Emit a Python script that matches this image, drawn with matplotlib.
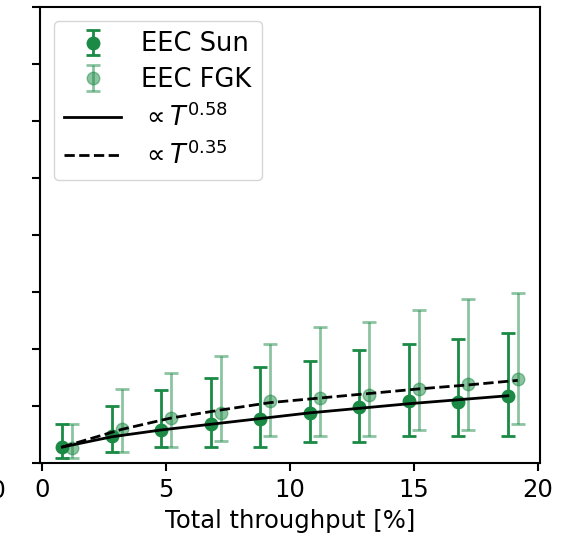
import numpy as np
import matplotlib
matplotlib.use("Agg")
import matplotlib.pyplot as plt

# EEC yield vs total throughput (y-axis units arbitrary, labels cropped off)
x_sun = [0.8, 2.8, 4.8, 6.8, 8.8, 10.8, 12.8, 14.8, 16.8, 18.8]
y_sun = [0.28, 0.47, 0.58, 0.68, 0.77, 0.88, 0.98, 1.09, 1.07, 1.18]
sun_lo = [0.09, 0.19, 0.28, 0.28, 0.28, 0.37, 0.37, 0.47, 0.47, 0.47]
sun_hi = [0.68, 1.00, 1.28, 1.49, 1.68, 1.79, 1.98, 2.09, 2.18, 2.28]

x_fgk = [1.2, 3.2, 5.2, 7.2, 9.2, 11.2, 13.2, 15.2, 17.2, 19.2]
y_fgk = [0.26, 0.60, 0.79, 0.88, 1.09, 1.14, 1.19, 1.30, 1.39, 1.47]
fgk_lo = [0.09, 0.19, 0.28, 0.39, 0.47, 0.47, 0.47, 0.58, 0.58, 0.68]
fgk_hi = [0.68, 1.30, 1.58, 1.88, 2.09, 2.39, 2.47, 2.68, 2.88, 2.98]

# fitted power laws
fit_sun = [0.28, 0.46, 0.58, 0.68, 0.78, 0.88, 0.96, 1.04, 1.11, 1.18]
x_fit_fgk = [0.8, 3.2, 5.2, 7.2, 9.2, 11.2, 13.2, 15.2, 17.2, 19.2]
fit_fgk = [0.28, 0.59, 0.79, 0.93, 1.06, 1.14, 1.22, 1.30, 1.37, 1.45]

green = "#1b8a45"
fs = 17.5

fig = plt.figure(figsize=(5.65, 5.37), dpi=100)
ax = fig.add_axes([0.0708, 0.1378, 0.885, 0.849])

err_sun = [np.array(y_sun) - np.array(sun_lo), np.array(sun_hi) - np.array(y_sun)]
err_fgk = [np.array(y_fgk) - np.array(fgk_lo), np.array(fgk_hi) - np.array(y_fgk)]

h1 = ax.errorbar(x_sun, y_sun, yerr=err_sun, fmt="o", color=green, ms=9,
                 elinewidth=2, capsize=5, capthick=2, label="EEC Sun", zorder=3)
h2 = ax.errorbar(x_fgk, y_fgk, yerr=err_fgk, fmt="o", color=green, alpha=0.5, ms=9,
                 elinewidth=2, capsize=5, capthick=2, label="EEC FGK", zorder=3)
h3, = ax.plot(x_sun, fit_sun, "k-", lw=2, label=r"$\propto T^{0.58}$", zorder=4)
h4, = ax.plot(x_fit_fgk, fit_fgk, "k--", lw=2, label=r"$\propto T^{0.35}$", zorder=4)

ax.set_xlim(-0.1, 20.1)
ax.set_ylim(0, 8)
ax.set_xticks([0, 5, 10, 15, 20])
ax.set_yticks(range(0, 9))
ax.tick_params(axis="x", labelsize=fs, length=6, width=1.5, pad=5)
ax.tick_params(axis="y", labelleft=False, length=6, width=1.5)
for s in ax.spines.values():
    s.set_linewidth(1.5)
ax.set_xlabel("Total throughput [%]", fontsize=fs, labelpad=5)

ax.legend(handles=[h1, h2, h3, h4], loc="upper left", fontsize=18.5,
          borderaxespad=0.55, handlelength=2.2, labelspacing=0.38)

# edge of the neighbouring panel's tick label
fig.text(0.011, 0.085, "20", ha="right", va="center", fontsize=fs)

plt.savefig("out.png", dpi=100)
